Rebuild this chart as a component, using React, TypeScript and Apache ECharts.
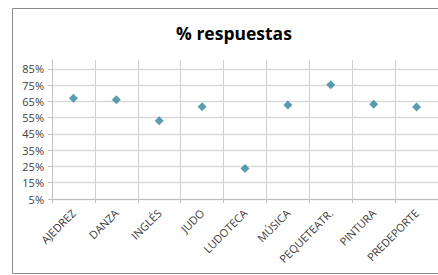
import React, { useEffect, useRef } from "react";
import * as echarts from "echarts";

const categories = ["AJEDREZ", "DANZA", "INGLÉS", "JUDO", "LUDOTECA", "MÚSICA", "PEQUETEATR.", "PINTURA", "PREDEPORTE"];
const values = [67.0, 66.1, 53.2, 61.8, 23.7, 62.8, 75.2, 63.3, 61.6];
const yTicks = [5, 15, 25, 35, 45, 55, 65, 75, 85];
const titleText = "% respuestas";

export default function App() {
  const ref = useRef<HTMLDivElement>(null);
  useEffect(() => {
    if (!ref.current) return;
    const chart = echarts.init(ref.current, undefined, { renderer: "svg" });
    chart.setOption({
      animation: false,
      backgroundColor: "#ffffff",
      textStyle: { fontFamily: "Open Sans" },
      graphic: [
        {
          type: "rect",
          shape: { x: 12.5, y: 8.5, width: 440, height: 265 },
          style: { fill: "none", stroke: "#8c8c8c", lineWidth: 1 },
          silent: true,
        },
        {
          type: "text",
          x: 234,
          y: 33,
          style: {
            text: titleText,
            fontFamily: "Open Sans",
            fontWeight: "bold",
            fontSize: 17.5,
            fill: "#000000",
            textAlign: "center",
            textVerticalAlign: "middle",
          },
        },
      ],
      grid: { left: 52, top: 60, width: 390, height: 139, containLabel: false },
      xAxis: {
        type: "category",
        data: categories,
        boundaryGap: true,
        axisLine: { show: true, lineStyle: { color: "#bfbfbf", width: 1 } },
        axisTick: { show: true, length: 4, lineStyle: { color: "#bfbfbf" } },
        splitLine: { show: true, lineStyle: { color: "#d0d0d0", width: 1 } },
        axisLabel: {
          rotate: 45,
          interval: 0,
          margin: 12,
          fontSize: 11,
          color: "#404040",
          fontFamily: "Open Sans",
        },
      },
      yAxis: {
        type: "value",
        min: 5,
        max: 90.5,
        axisLine: { show: true, lineStyle: { color: "#bfbfbf", width: 1 } },
        axisTick: { show: true, length: 4, lineStyle: { color: "#bfbfbf" }, customValues: yTicks },
        splitLine: { show: true, lineStyle: { color: "#d9d9d9", width: 1.3 } },
        axisLabel: {
          customValues: yTicks,
          formatter: (v: number) => `${Math.round(v)}%`,
          fontSize: 11,
          color: "#404040",
          margin: 8,
          fontFamily: "Open Sans",
        },
      },
      series: [
        {
          type: "scatter",
          data: values,
          symbol: "diamond",
          symbolSize: 9,
          itemStyle: { color: "#31859c" },
        },
      ],
    });
    return () => chart.dispose();
  }, []);
  return (
    <div
      ref={ref}
      style={{ position: "fixed", left: 0, top: 0, width: 438, height: 275, background: "#fff" }}
    />
  );
}
